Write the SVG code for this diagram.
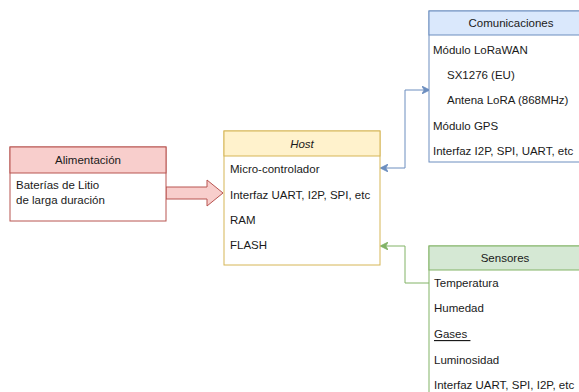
<svg xmlns="http://www.w3.org/2000/svg" width="579" height="392" viewBox="0 0 579 392">
<style>
text{font-family:"Liberation Sans",Arial,sans-serif;font-size:11.5px;fill:#1a1a1a;dominant-baseline:central}
.h{text-anchor:middle}
.c{fill:none;stroke-width:1}
</style>
<defs>
<marker id="ab" viewBox="0 0 10 10" refX="9" refY="5" markerWidth="8" markerHeight="8" orient="auto-start-reverse" markerUnits="userSpaceOnUse"><path d="M0,0 L10,5 L0,10 L3,5 Z" fill="#6c8ebf" stroke="#6c8ebf"/></marker>
<marker id="ag" viewBox="0 0 10 10" refX="9" refY="5" markerWidth="8" markerHeight="8" orient="auto" markerUnits="userSpaceOnUse"><path d="M0,0 L10,5 L0,10 L3,5 Z" fill="#82b366" stroke="#82b366"/></marker>
</defs>
<rect width="579" height="392" fill="#fff"/>
<g id="connectors">
<path class="c" d="M429,90 L405,90 L405,168 L381,168" stroke="#6c8ebf" marker-start="url(#ab)" marker-end="url(#ab)"/>
<path class="c" d="M429,283 L405,283 L405,246 L381,246" stroke="#82b366" marker-end="url(#ag)"/>
<path d="M166,187 L207,187 L207,180 L223,193 L207,206 L207,199 L166,199 Z" fill="#f8cecc" stroke="#b85450"/>
</g>
<g id="alimentacion">
<rect x="10" y="147" width="156" height="74" fill="#fff" stroke="#b85450"/>
<rect x="10" y="147" width="156" height="26" fill="#f8cecc" stroke="#b85450"/>
<text class="h" x="88" y="160">Alimentación</text>
<text x="16" y="185">Baterías de Litio</text>
<text x="16" y="200">de larga duración</text>
</g>
<g id="host">
<rect x="224" y="131" width="156" height="134" fill="#fff" stroke="#d6b656"/>
<rect x="224" y="131" width="156" height="25" fill="#fff2cc" stroke="#d6b656"/>
<text class="h" x="302" y="143.5" font-style="italic">Host</text>
<text x="230" y="169">Micro-controlador</text>
<text x="230" y="195">Interfaz UART, I2P, SPI, etc</text>
<text x="230" y="220">RAM</text>
<text x="230" y="245">FLASH</text>
</g>
<g id="comunicaciones">
<rect x="429" y="11" width="163" height="151" fill="#fff" stroke="#6c8ebf"/>
<rect x="429" y="11" width="163" height="24" fill="#dae8fc" stroke="#6c8ebf"/>
<text class="h" x="511" y="23">Comunicaciones</text>
<text x="433" y="50">Módulo LoRaWAN</text>
<text x="447" y="75">SX1276 (EU)</text>
<text x="447" y="100">Antena LoRA (868MHz)</text>
<text x="433" y="126">Módulo GPS</text>
<text x="433" y="151">Interfaz I2P, SPI, UART, etc</text>
</g>
<g id="sensores">
<rect x="429" y="246" width="153" height="160" fill="#fff" stroke="#82b366"/>
<rect x="429" y="246" width="153" height="24" fill="#d5e8d4" stroke="#82b366"/>
<text class="h" x="505" y="258">Sensores</text>
<text x="434" y="283">Temperatura</text>
<text x="434" y="308">Humedad</text>
<text x="434" y="334" text-decoration="underline">Gases&#160;</text>
<text x="434" y="360">Luminosidad</text>
<text x="434" y="385">Interfaz UART, SPI, I2P, etc</text>
</g>
</svg>
